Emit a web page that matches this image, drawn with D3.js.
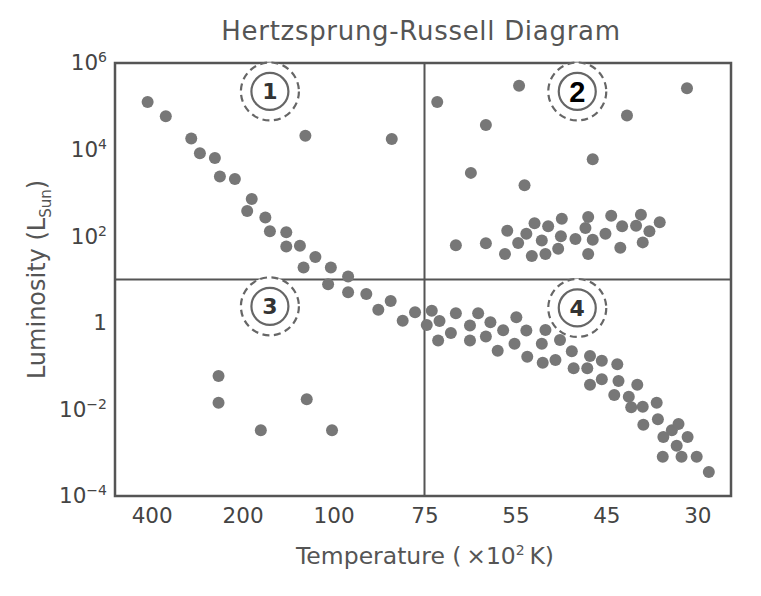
<!DOCTYPE html>
<html lang="en">
<head>
<meta charset="UTF-8">
<script src="https://cdn.jsdelivr.net/npm/d3@7"></script>
<title>Hertzsprung-Russell Diagram</title>
<style>
  body { margin: 0; background: #fff; }
  svg text { font-family: "DejaVu Sans", Verdana, sans-serif; }
  .tick text { fill: #444; font-size: 21.5px; }
  .dot { fill: #777; }
  .frame, .divider { fill: none; stroke: #555; }
</style>
</head>
<body>
<div id="chart"></div>
<script>
// temperature ticks (x 10^2 K), evenly spaced on the axis
const tempTicks = [400, 200, 100, 75, 55, 45, 30];
const lumTicks = [1e6, 1e4, 1e2, 1, 1e-2, 1e-4];

// [temperature (x10^2 K), luminosity (L_sun)]
const mainSequence = [
  [409,1.26e5],[369,5.9e4],[313,1.8e4],[294,8.2e3],[261,6.4e3],[250,2.4e3],[217,2.1e3],
  [190,720],[195,380],[175,270],[170,130],[152,123],[152,58],[137,60],[120,33],[133,19],
  [103,19],[96,11.8],[106,7.8],[96,5.1],[91,4.6],[84.3,3.2],[87.7,2.0],[81,1.12],[77.6,1.75],
  [73.4,1.9],[74.5,0.89],[71.7,1.1],[72,0.39],[69.2,0.58],[68.1,1.66],[65,0.87],[65,0.39],
  [63.2,1.66],[61.5,0.48],[60.5,1.03],[58.9,0.227],[57.7,0.67],[55.2,0.33],[54.9,1.34],
  [53.8,0.66],[53.7,0.165],[52.1,0.33],[52,0.12],[51.7,0.68],[50.6,0.138],[50.1,0.4],
  [48.8,0.22],[48.6,0.089],[47.1,0.089],[46.8,0.171],[46.8,0.037],[45.5,0.133],[45.5,0.05],
  [43.2,0.11],[43,0.045],[43.7,0.0215],[41.3,0.0195],[40.9,0.0112],[39.9,0.037],[39,0.0115],
  [36.7,0.0143],[38.9,0.0044],[36.5,0.0059],[35.6,0.0023],[34.2,0.0033],[33.1,0.0046],
  [31.6,0.0023],[33.4,0.00145],[35.7,0.00081],[32.6,0.00081],[30.1,0.00081],[28.1,0.00036]
];
const giants = [
  [64.8,2.9e3],[54,1.5e3],[46.5,6.0e3],
  [68.1,62],[61.5,69],[57.3,39],[56.8,134],[54.7,70],[53.8,114],[53.2,35],[52.9,200],
  [52.1,80],[51.7,39],[51.4,170],[50.3,51],[50,100],[49.9,254],[48.4,86],[47.3,155],
  [47,277],[47,39],[46.5,83],[45.1,114],[44.2,297],[42.7,54],[42.4,170],[40.1,175],
  [39.3,314],[39,72],[37.9,130],[36.2,210]
];
const supergiants = [
  [131,2.1e4],[84,1.75e4],[72.2,1.26e5],[54.6,3.0e5],[31.7,2.6e5],[61.5,3.7e4],[41.6,6.1e4]
];
const whiteDwarfs = [
  [253,0.059],[253,0.0143],[129.5,0.0171],[180,0.0033],[101.7,0.0033]
];
// quadrant markers
const regionLabels = ["1", "2", "3", "4"];
const regionTemps = [170, 48.2, 170, 48.2];
const regionLums = [2.2e5, 2.2e5, 2.4, 2.2];
const dividerTemp = 75;
const dividerLum = 10;

const width = 761, height = 596;
const margin = {top: 63, right: 30, bottom: 100, left: 115};
const w = width - margin.left - margin.right;
const h = height - margin.top - margin.bottom;

const svg = d3.select("#chart").append("svg")
  .attr("width", width).attr("height", height);

const g = svg.append("g")
  .attr("transform", `translate(${margin.left},${margin.top})`);

// evenly spaced ticks, linear between them
const xPoint = d3.scalePoint().domain(tempTicks).range([36.7, 582.3]);
const x = d3.scaleLinear().domain(tempTicks).range(tempTicks.map(t => xPoint(t)));
const y = d3.scaleLog().domain([1e-4, 1e6]).range([h, 0]);

const gx = g.append("g")
  .attr("transform", `translate(0,${h})`)
  .call(d3.axisBottom(x).tickValues(tempTicks).tickSize(0).tickPadding(12).tickFormat(d3.format("d")));
gx.select(".domain").remove();

const gy = g.append("g")
  .call(d3.axisLeft(y).tickValues(lumTicks).tickSize(0).tickPadding(8));
gy.select(".domain").remove();
gy.selectAll(".tick text").each(function(d) {
  const e = Math.round(Math.log10(d));
  const t = d3.select(this).text(null);
  if (e === 0) { t.text("1"); return; }
  t.append("tspan").text("10");
  t.append("tspan").attr("dy", "-8").attr("font-size", "14px")
    .text(e < 0 ? "\u2212" + (-e) : e);
});

// dividers
g.append("line").attr("class", "divider").attr("stroke-width", 2)
  .attr("x1", x(dividerTemp)).attr("x2", x(dividerTemp)).attr("y1", 0).attr("y2", h);
g.append("line").attr("class", "divider").attr("stroke-width", 2)
  .attr("x1", 0).attr("x2", w).attr("y1", y(dividerLum)).attr("y2", y(dividerLum));

const stars = mainSequence.concat(giants, supergiants, whiteDwarfs);
g.selectAll("circle.dot")
  .data(stars)
  .enter()
  .append("circle")
  .attr("class", "dot")
  .attr("r", 6)
  .attr("cx", d => x(d[0]))
  .attr("cy", d => y(d[1]));

g.append("rect").attr("class", "frame").attr("stroke-width", 2.5)
  .attr("width", w).attr("height", h);

// numbered region markers
const marks = g.selectAll("g.mark")
  .data(regionLabels)
  .enter()
  .append("g")
  .attr("class", "mark")
  .attr("transform", (d, i) => `translate(${x(regionTemps[i])},${y(regionLums[i])})`);
marks.append("circle").attr("r", 29).attr("fill", "#fff")
  .attr("stroke", "#666").attr("stroke-width", 2.2).attr("stroke-dasharray", "7,4.5");
marks.append("circle").attr("r", 18.5).attr("fill", "none")
  .attr("stroke", "#666").attr("stroke-width", 2.2);
marks.append("text")
  .attr("text-anchor", "middle")
  .attr("dy", "0.36em")
  .attr("font-weight", "bold")
  .style("font-family", d => d === "2" ? "'Liberation Sans', Arial, sans-serif" : null)
  .attr("font-size", d => d === "2" ? "29px" : "22px")
  .attr("fill", d => d === "2" ? "#000" : "#333")
  .text(d => d);

// titles
svg.append("text")
  .attr("x", 421).attr("y", 40)
  .attr("text-anchor", "middle")
  .attr("font-size", "26px").attr("letter-spacing", "0.7px")
  .attr("fill", "#555")
  .text("Hertzsprung-Russell Diagram");

const xt = svg.append("text")
  .attr("x", margin.left + w / 2 + 2).attr("y", 564)
  .attr("text-anchor", "middle")
  .attr("font-size", "23.5px").attr("fill", "#555");
xt.append("tspan").text("Temperature (\u2009\u00d710");
xt.append("tspan").attr("dy", "-9").attr("font-size", "14px").text("2");
xt.append("tspan").attr("dy", "9").text("\u2009K)");

const yt = svg.append("text")
  .attr("transform", `translate(45,${margin.top + h / 2}) rotate(-90)`)
  .attr("text-anchor", "middle")
  .attr("font-size", "24px").attr("fill", "#555");
yt.append("tspan").text("Luminosity (L");
yt.append("tspan").attr("dy", "6").attr("font-size", "15px").text("Sun");
yt.append("tspan").attr("dy", "-6").text(")");
</script>
</body>
</html>
